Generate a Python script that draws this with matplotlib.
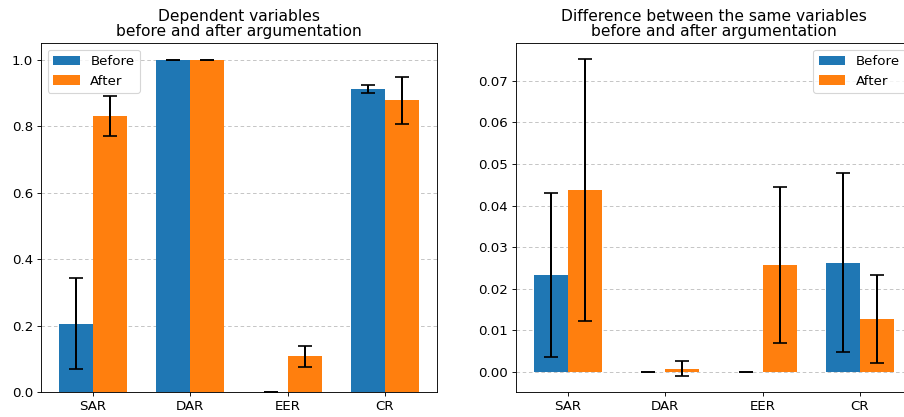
import numpy as np
import matplotlib
matplotlib.use("Agg")
import matplotlib.pyplot as plt

cats = ["SAR", "DAR", "EER", "CR"]

dep_before = [0.206, 1.0, 0.0, 0.913]
dep_before_err = [0.138, 0.0, 0.0, 0.013]
dep_after = [0.831, 1.0, 0.107, 0.878]
dep_after_err = [0.060, 0.001, 0.033, 0.070]

diff_before = [0.0234, 0.0, 0.0, 0.0263]
diff_before_err = [0.0197, 0.0, 0.0, 0.0215]
diff_after = [0.0438, 0.0008, 0.0257, 0.0127]
diff_after_err = [0.0315, 0.0018, 0.0187, 0.0106]

titles = ["Dependent variables\nbefore and after argumentation",
          "Difference between the same variables\nbefore and after argumentation"]

plt.rcParams["font.size"] = 12

w = 0.35
x = np.arange(len(cats))
ekw = dict(ecolor="black", capsize=6, elinewidth=1.8, capthick=1.5)

fig = plt.figure(figsize=(904 / 80, 417 / 80), dpi=80)
ax1 = fig.add_axes([41 / 904, 25 / 417, 396 / 904, 349 / 417])
ax2 = fig.add_axes([516 / 904, 25 / 417, 396 / 904, 349 / 417])

def draw(ax, b, be, a, ae, title, loc):
    ax.bar(x - w / 2, b, w, yerr=be, color="#1f77b4", label="Before", error_kw=ekw)
    ax.bar(x + w / 2, a, w, yerr=ae, color="#ff7f0e", label="After", error_kw=ekw)
    ax.set_xticks(x)
    ax.set_xticklabels(cats)
    ax.set_title(title, fontsize=14, linespacing=1.0)
    ax.yaxis.grid(True, linestyle=(0, (4, 3)), color="#c0c0c0")
    ax.set_axisbelow(True)
    ax.legend(loc=loc)

draw(ax1, dep_before, dep_before_err, dep_after, dep_after_err, titles[0], "upper left")
draw(ax2, diff_before, diff_before_err, diff_after, diff_after_err, titles[1], "upper right")

fig.savefig("out.png", dpi=80)
